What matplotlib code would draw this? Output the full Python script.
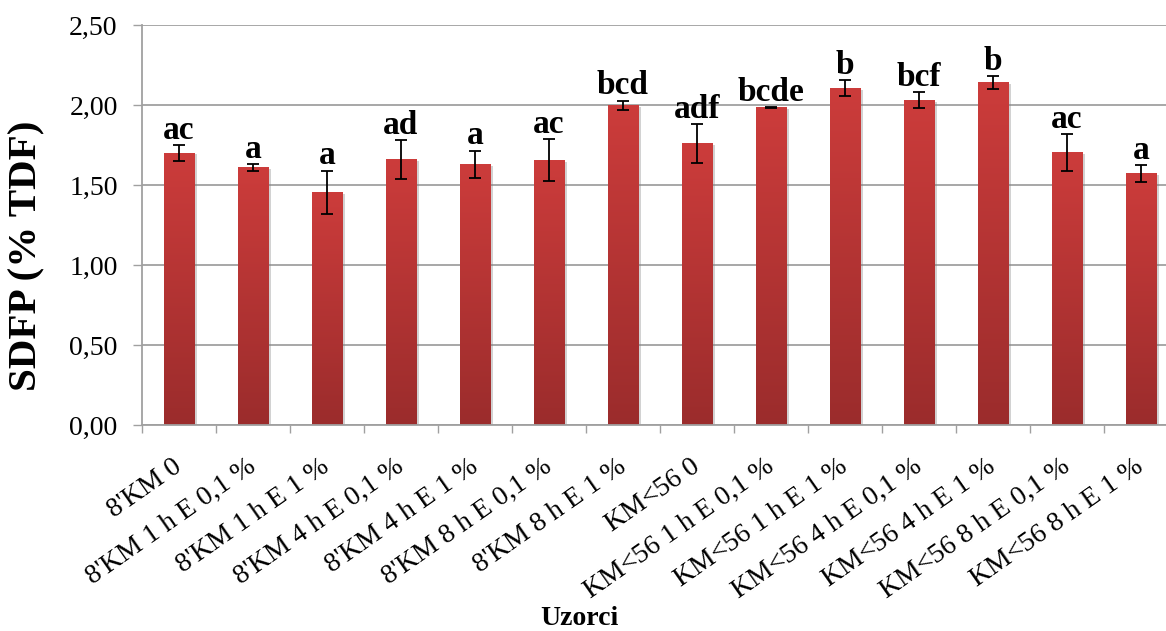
import numpy as np
import matplotlib
matplotlib.use("Agg")
import matplotlib.pyplot as plt
from matplotlib.colors import LinearSegmentedColormap
from matplotlib.transforms import ScaledTranslation
import matplotlib.patheffects as pe

# data
categories = ["8'KM 0", "8'KM 1 h E 0,1 %", "8'KM 1 h E 1 %", "8'KM 4 h E 0,1 %",
              "8'KM 4 h E 1 %", "8'KM 8 h E 0,1 %", "8'KM 8 h E 1 %", "KM<56 0",
              "KM<56 1 h E 0,1 %", "KM<56 1 h E 1 %", "KM<56 4 h E 0,1 %",
              "KM<56 4 h E 1 %", "KM<56 8 h E 0,1 %", "KM<56 8 h E 1 %"]
values = [1.70, 1.61, 1.455, 1.66, 1.63, 1.655, 1.998, 1.76,
          1.985, 2.104, 2.03, 2.14, 1.705, 1.573]
errors = [0.05, 0.02, 0.135, 0.12, 0.085, 0.13, 0.03, 0.12,
          0.004, 0.05, 0.05, 0.04, 0.115, 0.053]
letters = ["ac", "a", "a", "ad", "a", "ac", "bcd", "adf",
           "bcde", "b", "bcf", "b", "ac", "a"]
yticks = [0.0, 0.5, 1.0, 1.5, 2.0, 2.5]

plt.rcParams['font.family'] = ['Liberation Serif', 'DejaVu Serif']

W, H = 1166, 631
fig = plt.figure(figsize=(W / 100, H / 100), dpi=100)
ax = fig.add_axes([142 / W, (H - 425) / H, (1178 - 142) / W, 400 / H])

x = np.arange(len(categories))
grey = '#A0A0A0'

# bars with a soft shadow, gradient painted on top
bars = ax.bar(x, values, width=0.41, color='#B83433', zorder=2,
              path_effects=[pe.SimplePatchShadow(offset=(2, -1), shadow_rgbFace='#808080', alpha=0.35),
                            pe.Normal()])
cmap = LinearSegmentedColormap.from_list('redgrad', ['#9B2C2C', '#CC3C3B'])
grad = np.linspace(0, 1, 256).reshape(-1, 1)
for b in bars:
    x0 = b.get_x()
    ax.imshow(grad, extent=[x0, x0 + b.get_width(), 0, b.get_height()], origin='lower',
              aspect='auto', cmap=cmap, zorder=2.5, interpolation='bilinear')

ax.errorbar(x, values, yerr=errors, fmt='none', ecolor='black', elinewidth=1.3,
            capsize=4.5, capthick=1.3, zorder=4)

for xi, v, e, lab in zip(x, values, errors, letters):
    ax.annotate(lab, (xi, v + e), xytext=(0, 4.5), textcoords='offset points',
                ha='center', va='baseline', fontsize=24, fontweight='bold', zorder=5)

ax.set_xlim(-0.5, len(categories) - 0.5)
ax.set_ylim(0, 2.5)

ax.set_yticks(yticks, [f"{t:.2f}".replace('.', ',') for t in yticks])
ax.tick_params(axis='y', length=6.5, color=grey, width=1.0, pad=11, labelsize=20)
ax.yaxis.grid(True, color=grey, linewidth=1.3, zorder=0)
ax.set_axisbelow(True)

ax.set_xticks(x, categories, rotation=35, ha='right', va='top', rotation_mode='anchor')
ax.set_xticks(np.arange(len(categories) + 1) - 0.5, minor=True)
ax.tick_params(axis='x', which='major', length=0, pad=21, labelsize=20)
ax.tick_params(axis='x', which='minor', length=6, color=grey, width=1.0)
shift = ScaledTranslation(-5 / 72, 0, fig.dpi_scale_trans)
for lbl in ax.get_xticklabels():
    lbl.set_transform(lbl.get_transform() + shift)

for s in ['top', 'right']:
    ax.spines[s].set_visible(False)
for s in ['left', 'bottom']:
    ax.spines[s].set_color(grey)
    ax.spines[s].set_linewidth(1.3)

fig.text(27 / W, 1 - 256 / H, "SDFP (% TDF)", rotation=90, ha='center', va='center',
         fontsize=29.5, fontweight='bold')
fig.text(579 / W, 6 / H, "Uzorci", ha='center', va='baseline', fontsize=20, fontweight='bold')

fig.savefig('out.png', dpi=100)
